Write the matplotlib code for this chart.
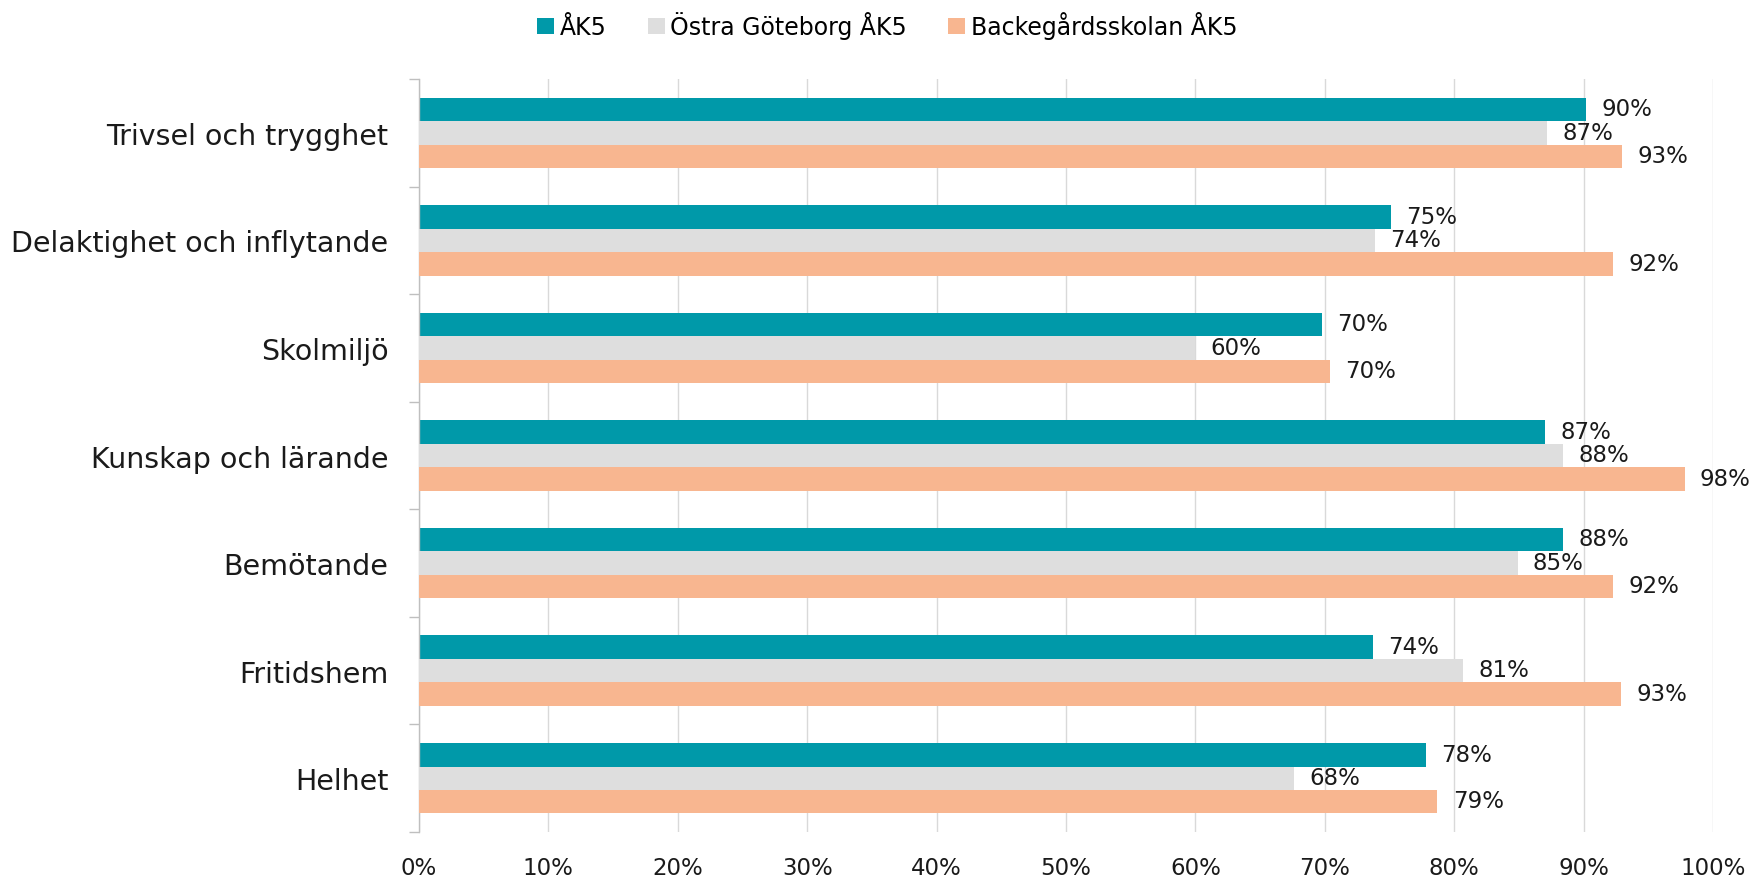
import numpy as np
import matplotlib
matplotlib.use("Agg")
from matplotlib import pyplot as plt
from matplotlib.patches import Patch

plt.rcParams['font.family'] = ['DejaVu Sans']

categories = ['Trivsel och trygghet', 'Delaktighet och inflytande', 'Skolmiljö',
              'Kunskap och lärande', 'Bemötande', 'Fritidshem', 'Helhet']
series_names = ['ÅK5', 'Östra Göteborg ÅK5', 'Backegårdsskolan ÅK5']
ak5 = [90.2, 75.1, 69.8, 87.0, 88.4, 73.7, 77.8]
ostra = [87.2, 73.9, 60.0, 88.4, 84.9, 80.7, 67.6]
backe = [93.0, 92.3, 70.4, 97.8, 92.3, 92.9, 78.7]
labels_ak5 = ['90%', '75%', '70%', '87%', '88%', '74%', '78%']
labels_ostra = ['87%', '74%', '60%', '88%', '85%', '81%', '68%']
labels_backe = ['93%', '92%', '70%', '98%', '92%', '93%', '79%']

colors = ['#0099A9', '#DEDEDE', '#F8B690']

fig = plt.figure(figsize=(17.5, 8.79), dpi=100)
ax = fig.add_axes([0.2394, 0.0523, 0.7395, 0.8567])

y = np.arange(len(categories))
h = 0.218
series = [(ak5, labels_ak5), (ostra, labels_ostra), (backe, labels_backe)]
for i, (vals, labs) in enumerate(series):
    pos = y + (i - 1) * h
    z = 2 + i
    ax.barh(pos, vals, height=h, color=colors[i], zorder=z, label=series_names[i])
    # labels drawn under the next series' bars, like the original
    for p, v, t in zip(pos, vals, labs):
        ax.annotate(t, (v, p), xytext=(11, 0.5), textcoords='offset points',
                    ha='left', va='center', fontsize=16.5, color='#1a1a1a', zorder=z + 0.1)

ax.set_ylim(len(categories) - 0.5, -0.5)
ax.set_xlim(0, 100)
ax.set_xticks(np.arange(0, 101, 10))
ax.set_xticklabels([f'{v}%' for v in range(0, 101, 10)], fontsize=16.5, color='#1a1a1a')
ax.set_yticks(y)
ax.set_yticklabels(categories, fontsize=20.5, color='#1a1a1a')
ax.set_yticks(np.arange(-0.5, len(categories)), minor=True)
ax.tick_params(axis='y', which='major', length=0, pad=22)
ax.tick_params(axis='y', which='minor', length=7, color='#BFBFBF', width=1)
ax.tick_params(axis='x', length=0, pad=17)

ax.grid(axis='x', color='#D9D9D9', linewidth=1)
ax.set_axisbelow(True)
for s in ['top', 'right', 'bottom']:
    ax.spines[s].set_visible(False)
ax.spines['left'].set_color('#BFBFBF')
ax.spines['left'].set_linewidth(1)

handles = [Patch(facecolor=c, edgecolor='none') for c in colors]
fig.legend(handles, series_names, loc='center', bbox_to_anchor=(0.507, 0.970),
           ncol=3, frameon=False, fontsize=17, handlelength=0.72, handleheight=0.68,
           handletextpad=0.25, columnspacing=1.74)

fig.savefig('out.png', dpi=100)
